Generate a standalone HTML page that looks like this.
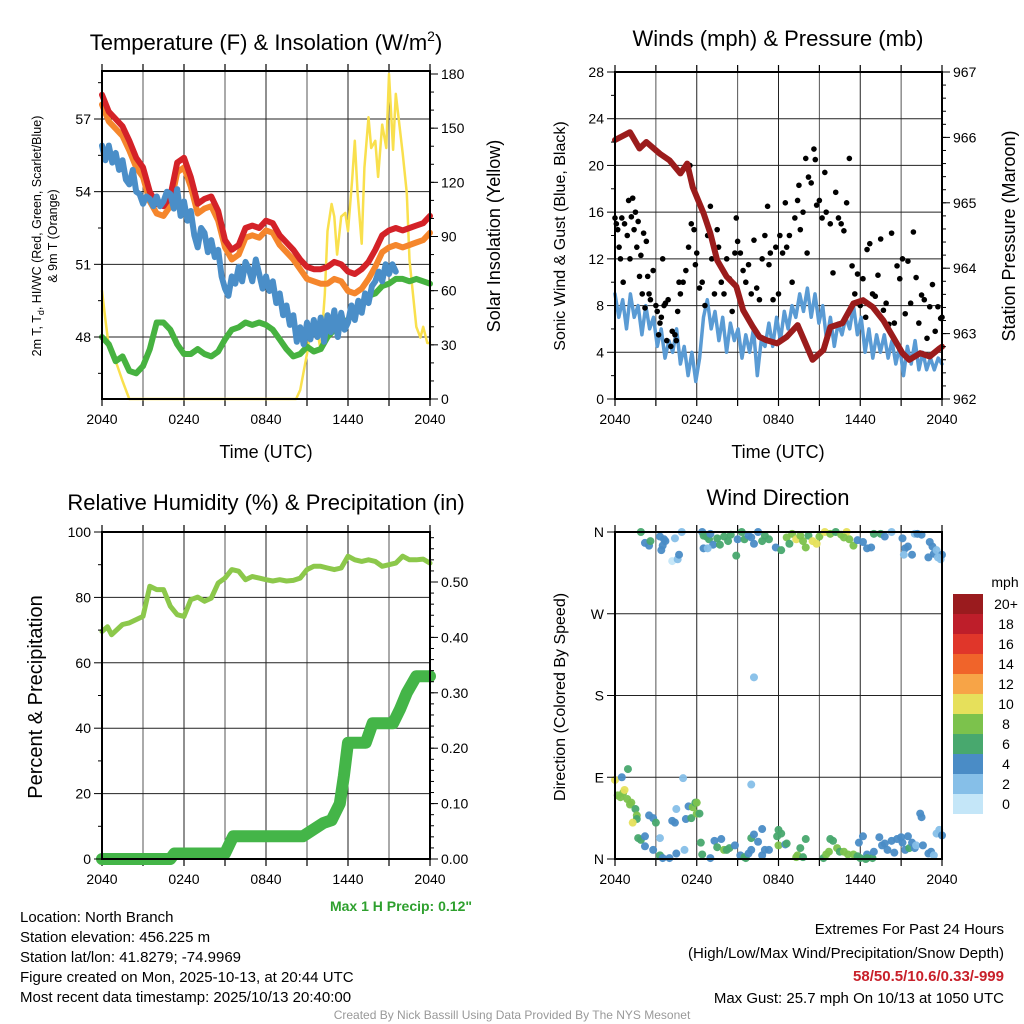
<!DOCTYPE html>
<html><head><meta charset="utf-8"><style>
html,body{margin:0;padding:0;background:#fff;}
svg{display:block;font-family:"Liberation Sans",sans-serif;}
</style></head><body>
<svg id="chart" width="1024" height="1024" viewBox="0 0 1024 1024">
<rect width="1024" height="1024" fill="#fff"/>
<g id="layer"></g>
</svg>
<script>
// ---------- DATA ----------
const timeLabels = ["2040","0240","0840","1440","2040"];
const tempTimes = [0,0.5,1,1.5,2,2.5,3,3.5,4,4.5,5,5.5,6,6.5,7,7.5,8,8.5,9,9.5,10,10.5,11,11.5,12,12.5,13,13.5,14,14.5,15,15.5,16,16.5,17,17.5,18,18.5,19,19.5,20,20.5,21,21.5,22,22.5,23,23.5,24];
const redTemp = [58.0,57.3,57.0,56.7,56.1,55.4,55.0,54.0,53.5,53.4,53.8,55.2,55.4,54.6,53.5,53.7,53.8,53.2,52.0,51.6,51.8,52.5,52.6,52.5,52.8,52.7,52.2,51.9,51.6,51.2,50.9,50.8,50.8,50.9,51.1,51.0,50.7,50.6,50.8,51.1,51.6,52.2,52.4,52.5,52.4,52.5,52.6,52.7,53.0];
const orangeTemp = [57.6,56.9,56.6,56.3,55.7,55.0,54.6,53.6,53.1,53.0,53.4,54.8,55.0,54.2,53.1,53.3,53.4,52.8,51.7,51.2,51.4,52.1,52.2,52.1,52.4,52.3,51.8,51.5,51.2,50.8,50.4,50.3,50.2,50.2,50.4,50.3,49.9,49.8,50.0,50.4,50.9,51.5,51.7,51.8,51.7,51.8,51.9,52.0,52.3];
const greenTemp = [48.0,47.7,47.0,47.2,46.6,46.5,46.8,47.5,48.6,48.6,48.3,47.7,47.3,47.3,47.5,47.3,47.2,47.4,47.9,48.3,48.4,48.6,48.5,48.6,48.5,48.3,47.9,47.5,47.2,47.3,47.6,47.4,47.5,48.0,48.3,48.6,48.7,49.1,49.4,49.7,49.8,50.1,50.2,50.4,50.4,50.3,50.4,50.3,50.2];
const blueTemp = [55.9,55.3,55.9,55.2,55.6,54.9,55.3,54.5,54.3,54.9,54.0,53.9,53.5,53.8,53.7,53.4,53.8,53.4,53.6,54.0,53.9,53.3,54.1,53.0,53.6,52.8,53.2,52.2,51.7,52.5,52.3,51.5,52.0,51.3,51.6,50.5,50.0,49.7,50.5,50.2,50.9,50.3,51.1,50.8,50.3,51.2,50.6,50.0,50.5,49.9,50.3,49.4,49.8,48.9,49.3,48.5,48.9,47.8,48.4,47.7,48.6,47.9,48.7,48.0,48.8,47.8,48.9,48.2,49.1,48.0,49.0,48.3,48.6,49.3,48.7,49.5,49.0,49.8,49.4,50.1,50.3,50.7,50.3,51.0,50.6,51.0,50.7];
const solarTimes = [0,0.25,0.5,0.75,1,1.5,2,14.2,14.5,15,15.3,15.6,16,16.3,16.5,16.8,17,17.2,17.5,17.8,18,18.3,18.5,18.7,19,19.2,19.5,19.7,20,20.2,20.5,20.8,21,21.3,21.5,22,22.3,22.5,23,23.3,23.5,23.8,24];
const solarVals = [60,44,29,25,21,10,0,0,5,25,40,44,27,58,93,108,101,80,101,103,93,121,143,114,86,128,156,139,143,123,152,139,180,138,169,136,114,77,40,34,40,31,31];

const presTimes = [0,1.1,1.8,2.3,3.3,4,4.8,5.3,5.7,6.5,7,7.5,8.2,8.9,9.4,10.1,10.6,11.1,11.9,12.6,13.4,14.5,15.3,15.8,16.7,17.5,18.2,18.9,19.7,20.4,21.1,21.6,22.4,23.1,23.8,24];
const presVals = [965.96,966.08,965.83,965.93,965.75,965.65,965.45,965.6,965.24,964.84,964.53,964.12,963.87,963.72,963.36,963.11,962.95,962.9,962.85,962.95,963.13,962.6,962.75,963.1,963.16,963.46,963.51,963.41,963.2,962.95,962.7,962.6,962.7,962.65,962.77,962.8];
const sonicVals = [9,7,8.5,6,9,7,8,5.5,8,6,7,4.5,6,3.5,5,4,6,3,4.5,2,4,1.5,3.5,7,8.5,6,7.5,5,7,4,6.5,5,6,3.5,5.5,4,6,2,5,4.5,6.5,4.5,7,5,7.5,6,8,7,9,7.5,9.5,7,9,6.5,8,5,7,4.5,6.5,5.5,7,6,8,5.5,7,4,6,3.5,5.5,4,5.5,3.5,5,3,4.5,2,4.5,3,5,2.5,4,2.5,3.5,2.5,3.5,3];
const gustTimes = [0,0.1,0.2,0.3,0.4,0.5,0.6,0.7,0.9,1.0,1.1,1.2,1.3,1.4,1.5,1.6,1.7,1.8,1.9,2.0,2.1,2.2,2.3,2.4,2.5,2.6,2.8,3.0,3.1,3.2,3.3,3.4,3.5,3.6,3.7,3.8,3.9,4.1,4.2,4.4,4.5,4.6,4.7,4.8,5.0,5.2,5.4,5.5,5.6,5.8,5.9,6.0,6.2,6.4,6.6,6.8,7.0,7.1,7.3,7.5,7.6,7.8,8.0,8.2,8.4,8.6,8.8,8.9,9.0,9.2,9.4,9.6,9.8,10.0,10.2,10.4,10.6,10.8,11.0,11.2,11.3,11.4,11.6,11.8,12.0,12.1,12.3,12.5,12.6,12.8,13.0,13.2,13.4,13.5,13.6,13.8,14.0,14.1,14.2,14.4,14.6,14.7,14.8,15.0,15.2,15.4,15.5,15.8,16.0,16.2,16.4,16.6,16.8,17.0,17.2,17.4,17.6,17.8,18.0,18.2,18.4,18.5,18.7,18.9,19.1,19.3,19.5,19.7,19.9,20.1,20.3,20.5,20.7,20.9,21.1,21.3,21.5,21.7,21.9,22.1,22.3,22.5,22.7,22.9,23.1,23.3,23.5,23.7,23.9,24];
const gustVals = [15.5,15,14.5,13,12,15.5,10,15,14,17,12,15.6,17.2,14.5,16,13,15.2,10.5,12.3,9,14.2,7.8,13.5,10.5,9,8.5,11,8,7.5,5.5,6.5,7,12,8,8.2,5,8.5,4.5,5.8,5.5,5,7.5,10,9,10,11,13,20,15,14.5,11.5,12.5,9.5,10,8,14,16.5,12,9,14.5,13,10,9,12,10.3,7.5,12.5,15.5,13.5,12.5,11,10,11.5,9,13.6,9.5,8.5,12,14,16.5,11.5,12.5,8.5,13,9,14,12.5,16.8,13,14,10,15.5,17,18.3,14.5,16,20.6,12.5,19,18.5,21.4,20.5,16.6,17,15.5,19.4,16,15,10.8,17.7,15.5,15,14.4,16.8,20.6,11.4,9,10.7,8,10.3,7,12.8,13.3,9,8.8,10.6,13.7,7.6,8.2,6.4,14.2,6.5,11.4,10.3,12,7.3,11.8,8.2,14.3,10.4,6.5,8.9,8.5,5.2,7.9,9.8,5.8,7.9,6.9,7];

const rhTimes = [0,0.4,0.7,1.5,2,3,3.5,4,4.5,5,5.5,6,6.5,7,7.5,8,8.5,9,9.5,10,10.5,11,11.5,12,12.5,13,13.5,14,14.5,15,15.5,16,16.5,17,17.5,18,18.5,19,19.5,20,20.5,21,21.5,22,22.5,23,23.5,24];
const rhVals = [69.6,71,68.6,71.7,72.2,74.2,83.4,82.4,82.4,77.3,74.7,74.2,79.3,80.1,78.8,79.8,84.4,85.9,88.5,88,85.4,86.4,85.9,85.4,85,85.4,85,85.2,85.9,88.5,89.5,89.5,89,88.5,89,92.6,91.5,91,91.5,91,89.5,90,90.5,92.6,91.5,91.5,91.7,90.5];
const precipTimes = [0,5,5.3,9,9.6,14.7,16.2,16.8,17.4,17.7,18,19.3,19.8,21.3,21.8,22.3,23,24];
const precipVals = [0,0,0.01,0.01,0.041,0.041,0.065,0.07,0.10,0.15,0.21,0.21,0.245,0.245,0.27,0.30,0.33,0.33];

const dirTimes = [1.9,2.2,2.5,2.6,3.3,3.6,3.5,3.4,3.7,4.4,4.2,4.6,4.7,4.9,6.4,6.5,6.7,6.9,7.0,7.2,6.5,6.8,7.5,7.7,8.0,8.3,8.5,9.0,9.3,8.9,9.5,9.8,10.0,10.2,10.5,10.8,11.0,11.3,11.8,12.2,12.6,12.8,13.0,13.3,13.6,13.8,14.2,14.0,14.5,14.8,15.0,15.4,15.8,16.2,16.6,17.0,16.8,17.2,17.5,17.8,18.2,18.5,18.8,19.0,19.5,19.8,20.3,21.1,21.3,21.2,21.5,21.8,22.0,22.2,22.5,23.1,23.3,23.0,23.4,23.6,23.9,24.0,23.7,10.2,
0,0.5,0.2,0.4,0.6,0.7,0.9,1.1,1.2,1.5,1.6,1.6,0.95,1.3,1.7,1.9,2.2,2.2,2.5,2.8,3.0,3.3,3.3,2.8,3.5,4.0,4.4,4.2,4.5,4.5,5.0,5.1,5.2,5.4,5.6,5.7,5.9,6.0,6.0,6.2,6.3,6.4,7.0,7.3,7.5,7.8,8.0,8.2,8.4,8.8,9.2,9.5,9.6,9.8,10.0,10.0,10.2,10.0,10.5,10.8,10.8,11.0,11.3,11.9,12.0,12.2,12.0,12.5,12.6,13.3,13.4,13.6,14.0,13.8,15.3,15.5,15.7,15.8,16.0,16.3,16.5,16.8,17.1,17.5,17.8,18.0,18.4,18.5,17.9,18.2,18.5,18.9,19.0,19.4,19.6,19.8,20.0,20.3,20.5,20.7,21.0,21.1,21.3,21.5,21.6,21.8,22.0,22.1,22.4,22.5,22.6,23.0,23.2,23.6,23.8,24.0,23.4];
const dirDeg = [360,348,345,350,355,352,345,340,350,353,328,330,335,360,360,356,355,352,358,346,342,342,353,346,355,350,357,352,360,334,352,356,354,347,360,350,356,352,343,340,354,347,358,352,356,350,356,343,350,347,355,360,358,360,357,360,354,352,345,351,349,342,343,358,358,355,360,353,342,335,344,335,358,358,357,349,344,332,336,340,330,335,332,200,
87,90,70,68,73,76,66,60,62,55,48,44,99,40,23,21,25,14,48,45,40,23,4,10,1,1,40,42,6,55,89,10,44,58,45,57,62,62,50,50,18,5,1,20,13,22,10,10,12,15,4,2,1,6,10,23,27,82,19,33,4,10,10,25,32,28,15,16,17,2,4,12,22,2,1,5,8,22,20,12,8,8,5,5,3,1,0,5,18,25,1,1,8,24,15,17,10,20,7,22,24,18,10,25,12,18,12,15,50,46,15,6,8,28,32,26,4];
const dirSpeed = [6,4,4,6,4,4,4,4,4,2,1,2,4,2,4,6,6,6,4,4,4,2,6,6,6,6,6,4,6,6,6,4,4,4,4,6,6,6,4,6,8,6,8,10,8,8,6,8,10,10,8,10,8,6,8,10,8,8,8,4,4,4,4,6,6,4,2,4,4,2,4,4,2,4,4,4,4,4,4,2,2,4,2,2,
10,4,8,8,8,10,8,8,8,6,8,6,6,10,6,6,4,4,4,4,6,2,6,4,4,4,4,4,4,2,2,2,4,4,6,8,6,8,8,6,6,6,4,4,6,4,8,6,6,4,4,6,6,4,4,6,4,2,4,4,4,4,4,6,6,6,8,4,6,8,8,6,6,6,6,8,8,6,6,8,6,8,8,8,6,6,6,4,4,4,6,6,4,4,4,4,4,4,4,4,4,4,4,4,6,4,4,2,4,4,4,4,4,2,2,4,2];
const cbLabels = ["20+","18","16","14","12","10","8","6","4","2","0"];
const cbColors = ["#9a1b1e","#be1e2a","#e0362a","#f0642a","#f7a447","#e6e05b","#7cc24c","#48a86e","#4a8cc6","#86bfe8","#c4e6f8"];

// ---------- HELPERS ----------
const NS="http://www.w3.org/2000/svg";
const layer=document.getElementById('layer');
function mk(tag,attrs,parent){const e=document.createElementNS(NS,tag);for(const k in attrs)e.setAttribute(k,attrs[k]);(parent||layer).appendChild(e);return e;}
function txt(s,x,y,size,opts){opts=opts||{};const e=mk('text',{x:x,y:y,'font-size':size,'text-anchor':opts.anchor||'middle',fill:opts.fill||'#000','font-weight':opts.weight||'normal'});if(opts.rot)e.setAttribute('transform','rotate('+opts.rot+' '+x+' '+y+')');e.textContent=s;return e;}
function panel(x0,x1,y0,y1){return {x0,x1,y0,y1,xs:t=>x0+t/24*(x1-x0)};}
function lin(d0,d1,p0,p1){return v=>p0+(v-d0)/(d1-d0)*(p1-p0);}
function line(p,times,vals,ys,color,w,name){let d='';times.forEach((t,i)=>{d+=(i?'L':'M')+p.xs(t).toFixed(1)+','+ys(vals[i]).toFixed(1);});const e=mk('path',{d:d,fill:'none',stroke:color,'stroke-width':w,'stroke-linejoin':'round','stroke-linecap':'round'});


return e;}
function frame(p,name){
  const g=mk('g',{});
  
  
  for(let h=3;h<24;h+=3){mk('line',{x1:p.xs(h),x2:p.xs(h),y1:p.y0,y2:p.y1,stroke:h%6?'#555':'#222','stroke-width':1},g);}
  for(let h=0;h<=24;h+=3){mk('line',{x1:p.xs(h),x2:p.xs(h),y1:p.y1,y2:p.y1+7,stroke:'#000','stroke-width':1.2},g);mk('line',{x1:p.xs(h),x2:p.xs(h),y1:p.y0,y2:p.y0-7,stroke:'#000','stroke-width':1.2},g);}
  timeLabels.forEach((l,i)=>{const e=txt(l,p.xs(i*6),p.y1+25,14);
    
    });
  return g;}
function hgrid(p,ys,vals,color){vals.forEach(v=>mk('line',{x1:p.x0,x2:p.x1,y1:ys(v),y2:ys(v),stroke:color||'#222','stroke-width':1}));}
function box(p){mk('rect',{x:p.x0,y:p.y0,width:p.x1-p.x0,height:p.y1-p.y0,fill:'none',stroke:'#000','stroke-width':2});}
function leftTicks(p,ys,majors,minors,labels){minors.forEach(v=>mk('line',{x1:p.x0-4,x2:p.x0,y1:ys(v),y2:ys(v),stroke:'#000'}));majors.forEach((v,i)=>{mk('line',{x1:p.x0-8,x2:p.x0,y1:ys(v),y2:ys(v),stroke:'#000'});if(labels){const e=txt(labels[i],p.x0-11,ys(v)+5,14,{anchor:'end'});}});}
function rightTicks(p,ys,majors,minors,labels){minors.forEach(v=>mk('line',{x1:p.x1,x2:p.x1+4,y1:ys(v),y2:ys(v),stroke:'#000'}));majors.forEach((v,i)=>{mk('line',{x1:p.x1,x2:p.x1+8,y1:ys(v),y2:ys(v),stroke:'#000'});const e=txt(labels[i],p.x1+11,ys(v)+5,14,{anchor:'start'});});}
function range(a,b,s){const r=[];for(let v=a;v<=b+1e-9;v+=s)r.push(+v.toFixed(4));return r;}

// ---------- PANEL 1 ----------
const p1=panel(102,430,71,399);
const yT=lin(57,48,119,337), yS=lin(0,180,399,74);
frame(p1,'temperature-panel-grid');
hgrid(p1,yT,[57,54,51,48]);
line(p1,solarTimes,solarVals,yS,'#f9e04d',2.5,'solar-insolation-line');
line(p1,tempTimes,greenTemp,yT,'#46b240',6,'dewpoint-line');
line(p1,tempTimes,orangeTemp,yT,'#f5862c',6,'temp-9m-line');
line(p1,tempTimes,redTemp,yT,'#d42228',6,'temperature-line');
line(p1,blueTemp.map((v,i)=>i*0.25),blueTemp,yT,'#4a8ec8',6,'windchill-line');
box(p1);
leftTicks(p1,yT,[57,54,51,48],[58.5,55.5,52.5,49.5,46.5],["57","54","51","48"]);
rightTicks(p1,yS,[0,30,60,90,120,150,180],range(10,170,10),["0","30","60","90","120","150","180"]);
{const t=mk('text',{x:266,y:50,'font-size':22,'text-anchor':'middle'});t.innerHTML='Temperature (F) &amp; Insolation (W/m<tspan font-size="14" dy="-9">2</tspan><tspan dy="9">)</tspan>';}
{const e=txt('Time (UTC)',266,458,18);}
{const t=mk('text',{x:41,y:236,'font-size':12.5,'text-anchor':'middle',transform:'rotate(-90 41 236)'});t.innerHTML='2m T, T<tspan font-size="9" dy="3">d</tspan><tspan dy="-3">, HI/WC (Red, Green, Scarlet/Blue)</tspan>';
 const e=txt('& 9m T (Orange)',57,236,12.5,{rot:-90});}
{const e=txt('Solar Insolation (Yellow)',500,236,18,{rot:-90});}

// ---------- PANEL 2 ----------
const p2=panel(615,942,72,399);
const yW=lin(0,28,399,72), yP=lin(962,967,399,72);
frame(p2,'winds-panel-grid');
hgrid(p2,yW,[4,8,12,16,20,24]);
line(p2,sonicVals.map((v,i)=>i*24/(sonicVals.length-1)),sonicVals,yW,'#5a9bd4',3.5,'sonic-wind-line');
gustVals.forEach((v,i)=>{const c=mk('circle',{cx:p2.xs(gustTimes[i]),cy:yW(v),r:2.8,fill:'#000'});
 
 });
line(p2,presTimes,presVals,yP,'#9b1c1c',6,'pressure-line');
box(p2);
leftTicks(p2,yW,range(0,28,4),range(2,26,4),["0","4","8","12","16","20","24","28"]);
rightTicks(p2,yP,[962,963,964,965,966,967],range(962.2,966.8,0.2),["962","963","964","965","966","967"]);
{const e=txt('Winds (mph) & Pressure (mb)',778,46,22);}
{const e=txt('Time (UTC)',778,458,18);}
{const e=txt('Sonic Wind & Gust (Blue, Black)',565,236,16,{rot:-90});}
{const e=txt('Station Pressure (Maroon)',1015,236,18,{rot:-90});}

// ---------- PANEL 3 ----------
const p3=panel(102,430,532,859);
const yR=lin(0,100,859,532), yPr=lin(0,0.5,859,582);
frame(p3,'humidity-panel-grid');
hgrid(p3,yR,[20,40,60,80]);
line(p3,rhTimes,rhVals,yR,'#8cc84b',5,'relative-humidity-line');
line(p3,precipTimes,precipVals,yPr,'#44b548',12,'precipitation-line');
box(p3);
leftTicks(p3,yR,[0,20,40,60,80,100],[10,30,50,70,90],["0","20","40","60","80","100"]);
rightTicks(p3,yPr,[0,0.1,0.2,0.3,0.4,0.5],range(0.02,0.58,0.02),["0.00","0.10","0.20","0.30","0.40","0.50"]);
{const e=txt('Relative Humidity (%) & Precipitation (in)',266,510,22);}
{const e=txt('Percent & Precipitation',42,697,20,{rot:-90});}
{const e=txt('Max 1 H Precip: 0.12"',472,911,14,{anchor:'end',fill:'#2ea02e',weight:'bold'});}

// ---------- PANEL 4 ----------
const p4=panel(615,942,532,859);
const yD=lin(0,360,859,532);
frame(p4,'direction-panel-grid');
hgrid(p4,yD,[90,180,270]);
function spdColor(s){const idx=Math.min(10,Math.max(0,Math.floor(s/2)));return cbColors[10-idx];}
dirDeg.forEach((d,i)=>{const c=mk('circle',{cx:p4.xs(dirTimes[i]),cy:yD(d),r:4,fill:spdColor(dirSpeed[i]),'fill-opacity':0.95});
 
 });
box(p4);
leftTicks(p4,yD,[0,90,180,270,360],[],["N","E","S","W","N"]);
{const e=txt('Wind Direction',778,505,22);}
{const e=txt('Direction (Colored By Speed)',565,697,16,{rot:-90});}
{const e=txt('mph',1005,587,14);}
cbLabels.forEach((l,i)=>{const r=mk('rect',{x:953,y:594+i*20,width:30,height:20,fill:cbColors[i]});
 
 
 const e=txt(l,1006,609+i*20,14);
 
 });

// ---------- TEXT ----------
const info=["Location: North Branch","Station elevation: 456.225 m","Station lat/lon: 41.8279; -74.9969","Figure created on Mon, 2025-10-13, at 20:44 UTC","Most recent data timestamp: 2025/10/13 20:40:00"];
info.forEach((s,i)=>{const e=txt(s,20,922+i*20,15,{anchor:'start'});});
{let e=txt('Extremes For Past 24 Hours',1004,934,15,{anchor:'end'});
 e=txt('(High/Low/Max Wind/Precipitation/Snow Depth)',1004,958,15,{anchor:'end'});
 e=txt('58/50.5/10.6/0.33/-999',1004,981,15,{anchor:'end',fill:'#c8202a',weight:'bold'});
 e=txt('Max Gust: 25.7 mph On 10/13 at 1050 UTC',1004,1003,15,{anchor:'end'});
 e=txt('Created By Nick Bassill Using Data Provided By The NYS Mesonet',512,1019,12,{fill:'#999'});}
</script>
</body></html>
